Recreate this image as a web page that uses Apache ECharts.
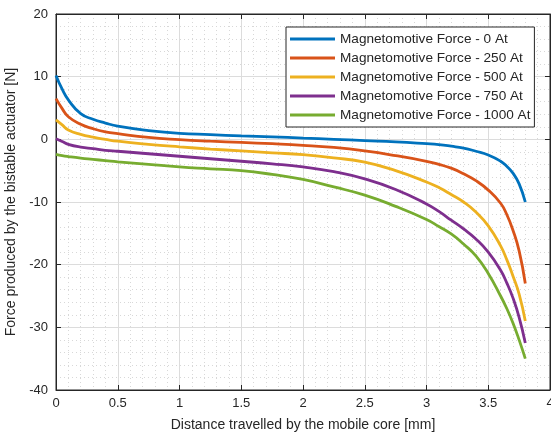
<!DOCTYPE html>
<html>
<head>
<meta charset="utf-8">
<script src="https://cdn.jsdelivr.net/npm/echarts@6/dist/echarts.min.js"></script>
<style>
  html, body { margin: 0; padding: 0; background: #fff; }
  #chart { width: 551px; height: 438px; }
</style>
</head>
<body>
<div id="chart"></div>
<script>
// distance travelled [mm]
const distance = [0, 0.05, 0.1, 0.2, 0.3, 0.4, 0.5, 0.75, 1.0, 1.25, 1.5, 1.75, 2.0, 2.25, 2.5, 2.75,
  3.0, 3.1, 3.2, 3.3, 3.4, 3.5, 3.6, 3.65, 3.7, 3.75, 3.8]

// force [N] for each magnetomotive force
const force0 = [10.2, 8.0, 6.3, 4.1, 3.2, 2.6, 2.1, 1.4, 0.95, 0.75, 0.55, 0.4, 0.2, 0.0, -0.2, -0.4,
  -0.7, -0.85, -1.1, -1.4, -1.9, -2.5, -3.5, -4.3, -5.4, -7.1, -10]
const force250 = [6.5, 4.9, 3.6, 2.4, 1.7, 1.2, 0.9, 0.3, -0.05, -0.3, -0.5, -0.7, -0.95, -1.3, -1.85, -2.6,
  -3.5, -4.0, -4.6, -5.5, -6.6, -8.1, -10.2, -12.0, -14.5, -17.8, -23]
const force500 = [3.1, 2.3, 1.5, 0.8, 0.35, 0.0, -0.3, -0.8, -1.2, -1.55, -1.85, -2.15, -2.45, -2.95, -3.65, -5.0,
  -6.8, -7.7, -8.8, -10.0, -11.6, -13.8, -17.0, -19.2, -21.8, -24.7, -29]
const force750 = [0.1, -0.35, -0.8, -1.25, -1.5, -1.75, -1.9, -2.3, -2.7, -3.1, -3.5, -3.9, -4.4, -5.15, -6.3, -8.0,
  -10.3, -11.5, -12.9, -14.3, -15.9, -18.0, -20.9, -22.9, -25.3, -28.4, -32.5]
const force1000 = [-2.4, -2.6, -2.75, -3.0, -3.2, -3.4, -3.6, -4.0, -4.4, -4.7, -5.0, -5.6, -6.4, -7.6, -8.9, -10.7,
  -12.8, -13.9, -15.1, -16.7, -18.6, -21.4, -25.0, -27.0, -29.3, -32.0, -35]

const seriesNames = [
  'Magnetomotive Force - 0 At',
  'Magnetomotive Force - 250 At',
  'Magnetomotive Force - 500 At',
  'Magnetomotive Force - 750 At',
  'Magnetomotive Force - 1000 At',
]
const seriesValues = [force0, force250, force500, force750, force1000]
const colors = ['#0072BD', '#D95319', '#EDB120', '#7E2F8E', '#77AC30']

const textColor = '#262626'
const fontFamily = '"Liberation Sans", Arial, sans-serif'

const chart = echarts.init(document.getElementById('chart'))

const commonAxis = {
  axisLine: { show: true, onZero: false, lineStyle: { color: textColor, width: 1 } },
  axisTick: { show: true, inside: true, length: 5, lineStyle: { color: textColor } },
  splitLine: { show: true, lineStyle: { color: '#dcdcdc', width: 1 } },
  minorTick: { show: false, splitNumber: 5 },
  minorSplitLine: { show: true, lineStyle: { color: '#d8d8d8', type: [1, 3], width: 1 } },
  axisLabel: { color: textColor, fontSize: 13, fontFamily: fontFamily },
  nameTextStyle: { color: textColor, fontSize: 14, fontFamily: fontFamily },
}

// box axes on the top and right, ticks only
const boxAxis = {
  type: 'value',
  axisLine: { show: true, onZero: false, lineStyle: { color: textColor } },
  axisTick: { show: true, inside: true, length: 5, lineStyle: { color: textColor } },
  axisLabel: { show: false },
  splitLine: { show: false },
}

chart.setOption({
  animation: false,
  color: colors,
  grid: {
    left: 56,
    right: 1,
    top: 14,
    bottom: 48,
    outerBoundsMode: 'none',
    show: true,
    borderColor: textColor,
    borderWidth: 1,
  },
  legend: {
    orient: 'vertical',
    left: 286,
    top: 27,
    icon: 'rect',
    itemWidth: 45,
    itemHeight: 3,
    itemGap: 5,
    padding: [5, 4, 5, 4],
    backgroundColor: '#fff',
    borderColor: textColor,
    borderWidth: 1,
    borderRadius: 0,
    textStyle: { color: textColor, fontSize: 13.6, lineHeight: 14, fontFamily: fontFamily },
    data: seriesNames,
  },
  xAxis: [
    Object.assign({}, commonAxis, {
      type: 'value',
      min: 0,
      max: 4,
      interval: 0.5,
      name: 'Distance travelled by the mobile core [mm]',
      nameLocation: 'middle',
      nameGap: 28,
      axisLabel: Object.assign({}, commonAxis.axisLabel, { margin: 7 }),
    }),
    Object.assign({}, boxAxis, { position: 'top', min: 0, max: 4, interval: 0.5 }),
  ],
  yAxis: [
    Object.assign({}, commonAxis, {
      type: 'value',
      min: -40,
      max: 20,
      interval: 10,
      name: 'Force produced by the bistable actuator [N]',
      nameLocation: 'middle',
      nameGap: 35,
      axisLabel: Object.assign({}, commonAxis.axisLabel, { margin: 8 }),
    }),
    Object.assign({}, boxAxis, { position: 'right', min: -40, max: 20, interval: 10 }),
  ],
  series: seriesNames.map((name, i) => ({
    name: name,
    type: 'line',
    smooth: 0.5,
    symbol: 'none',
    lineStyle: { width: 2.8, color: colors[i] },
    itemStyle: { color: colors[i] },
    data: distance.map((x, j) => [x, seriesValues[i][j]]),
  })),
})
</script>
</body>
</html>
